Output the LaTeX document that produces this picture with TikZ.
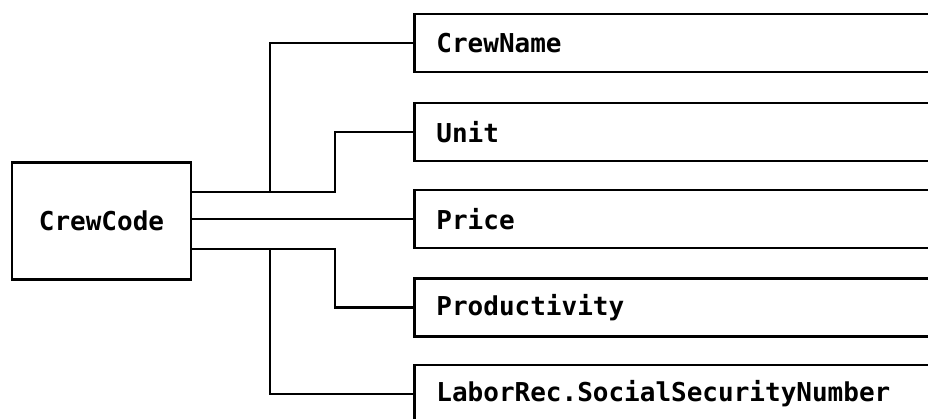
\documentclass[tikz,border=0pt]{standalone}
\usepackage{fontspec}
\newfontfamily\pixfont{DejaVu Sans Mono}
\begin{document}
\begin{tikzpicture}[x=1pt,y=-1pt,
  box/.style={draw,line width=2.8pt,inner sep=0pt},
  pix/.style={font=\pixfont\bfseries\fontsize{26}{30}\selectfont},
  field/.style={box,pix,anchor=west,minimum height=58pt,text width=500pt,inner xsep=22pt,align=left},
  conn/.style={line width=2.6pt}]
\useasboundingbox (0,0) rectangle (928,418);
\clip (0,0) rectangle (928,418);
\node[box,pix,minimum width=179pt,minimum height=117pt] (cc) at (101.5,221) {CrewCode};
\node[field] (n1) at (413,43) {CrewName};
\node[field] (n2) at (413,132) {Unit};
\node[field] (n3) at (413,219) {Price};
\node[field] (n4) at (413,307.5) {Productivity};
\node[field] (n5) at (413,394) {LaborRec.SocialSecurityNumber};
\coordinate (ja) at (270,192);
\coordinate (jc) at (335,192);
\coordinate (jb) at (270,249);
\coordinate (jd) at (335,249);
\draw[conn] (cc.east |- ja) -- (jc) |- (n2.west);
\draw[conn] (ja) |- (n1.west);
\draw[conn] (cc.east |- n3.west) -- (n3.west);
\draw[conn] (cc.east |- jd) -- (jd) |- (n4.west);
\draw[conn] (jb) |- (n5.west);
\end{tikzpicture}
\end{document}
